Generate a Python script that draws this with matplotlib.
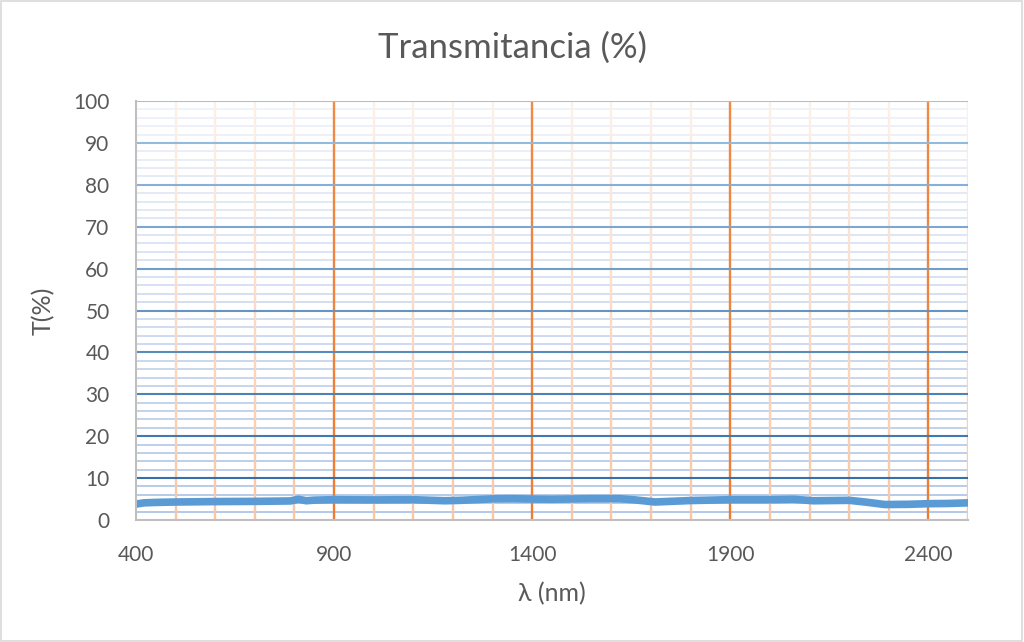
import numpy as np
import matplotlib
matplotlib.use('Agg')
import matplotlib.pyplot as plt
from matplotlib.colors import to_rgb
from matplotlib.patches import Rectangle

# ==========================================
# DATA
# ==========================================

lambda_nm = [
    400, 420, 450, 500, 600, 700, 790, 810, 830, 850, 900, 1000, 1100,
    1180, 1220, 1300, 1350, 1400, 1450, 1550, 1620, 1660, 1710, 1800,
    1900, 2000, 2060, 2110, 2200, 2240, 2290, 2350, 2400, 2450, 2500
]

transmitancia = [
    3.8, 4.1, 4.2, 4.3, 4.4, 4.45, 4.55, 4.95, 4.6, 4.75, 4.85, 4.8, 4.85,
    4.6, 4.7, 5.05, 5.1, 5.0, 4.95, 5.1, 5.1, 4.8, 4.3, 4.65,
    4.85, 4.85, 4.95, 4.6, 4.7, 4.3, 3.7, 3.75, 3.9, 3.95, 4.1
]

x_ticks = [400, 900, 1400, 1900, 2400]
y_ticks = [0, 10, 20, 30, 40, 50, 60, 70, 80, 90, 100]

# ==========================================
# STYLE
# ==========================================

plt.rcParams['font.family'] = ['Lato', 'DejaVu Sans']
text_color = '#595959'


def mix(c1, c2, t):
    a = np.array(to_rgb(c1))
    b = np.array(to_rgb(c2))
    return tuple(a + (b - a) * t)


fig = plt.figure(figsize=(10.24, 6.42), dpi=100)
ax = fig.add_axes([0.1328, 0.19, 0.8125, 0.6527])

ax.set_xlim(400, 2500)
ax.set_ylim(0, 100)

# ==========================================
# GRID WITH GRADIENT
# ==========================================

# horizontal minor lines (every 2)
for yv in range(2, 101, 2):
    if yv % 10 == 0:
        continue
    t = yv / 100
    ax.axhline(yv, color=mix('#ADC3E6', '#EFF3FA', t), lw=1.3, zorder=1)

# vertical lines drawn in segments to get a fade toward the top
n_seg = 50
seg_edges = np.linspace(0, 100, n_seg + 1)
for xv in range(500, 2501, 100):
    major = (xv - 400) % 500 == 0
    for i in range(n_seg):
        t = (seg_edges[i] + seg_edges[i + 1]) / 200
        if major:
            col = mix('#ED7D31', '#F08A45', t)
        else:
            col = mix('#F8C6A4', '#FDF0E8', t)
        ax.vlines(xv, seg_edges[i], seg_edges[i + 1], color=col, lw=1.7, zorder=2)

# horizontal major lines (every 10)
for yv in range(10, 101, 10):
    t = yv / 100
    ax.axhline(yv, color=mix('#2A66A3', '#9DC3E6', t), lw=1.5, zorder=3)

# ==========================================
# CURVE
# ==========================================

ax.plot(lambda_nm, transmitancia, color='#5B9BD5', lw=5.5,
        solid_capstyle='round', solid_joinstyle='round', zorder=5)

# ==========================================
# AXES
# ==========================================

for side in ['top', 'right']:
    ax.spines[side].set_visible(False)
for side in ['left', 'bottom']:
    ax.spines[side].set_color('#BFBFBF')
    ax.spines[side].set_linewidth(1.5)
    ax.spines[side].set_zorder(6)

ax.set_xticks(x_ticks)
ax.set_yticks(y_ticks)
ax.tick_params(length=0, labelsize=15, labelcolor=text_color)
ax.tick_params(axis='x', pad=18)
ax.tick_params(axis='y', pad=19)

fig.text(0.5, 0.926, 'Transmitancia (%)', fontsize=25, color=text_color,
         ha='center', va='center')
ax.set_xlabel('λ (nm)', fontsize=18, color=text_color, labelpad=12)
ax.set_ylabel('T(%)', fontsize=18, color=text_color, labelpad=13)

# outer chart border
fig.patches.append(Rectangle((0.001, 0.001), 0.997, 0.997, transform=fig.transFigure,
                             fill=False, edgecolor='#D9D9D9', lw=1.2))

fig.savefig('out.png', dpi=100)
